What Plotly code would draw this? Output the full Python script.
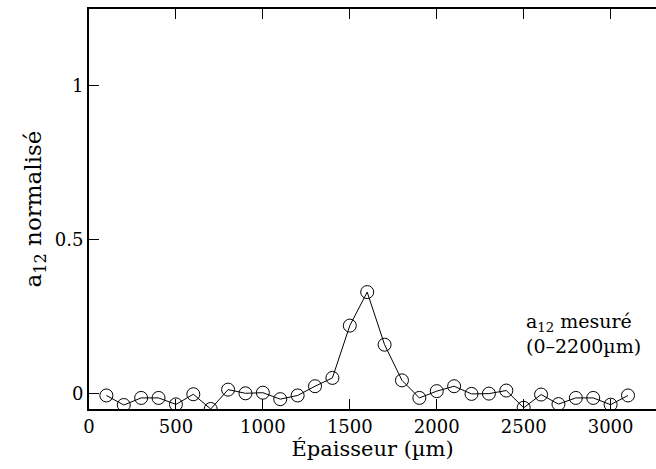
import plotly.graph_objects as go

epaisseur = [100, 200, 300, 400, 500, 600, 700, 800, 900, 1000, 1100, 1200, 1300, 1400, 1500, 1600,
             1700, 1800, 1900, 2000, 2100, 2200, 2300, 2400, 2500, 2600, 2700, 2800, 2900, 3000, 3100]
a12 = [-0.006, -0.037, -0.014, -0.014, -0.035, -0.002, -0.05, 0.013, 0.001, 0.003, -0.018, -0.006,
       0.024, 0.051, 0.221, 0.330, 0.159, 0.043, -0.014, 0.008, 0.024, -0.001, 0.0, 0.010, -0.046,
       -0.003, -0.034, -0.014, -0.014, -0.036, -0.006]
x_ticks = [0, 500, 1000, 1500, 2000, 2500, 3000]
y_ticks = [0, 0.5, 1]
y_tick_labels = ["0", "0.5", "1"]

FONT = "DejaVu Serif"

fig = go.Figure()
fig.add_trace(go.Scatter(
    x=epaisseur, y=a12, mode="lines+markers",
    line=dict(color="black", width=1),
    marker=dict(symbol="circle-open", size=13, color="black", line=dict(width=1, color="black")),
    showlegend=False,
))

fig.add_annotation(
    x=0.767, y=0.19, xref="paper", yref="paper", xanchor="left", yanchor="middle",
    text="a<sub>12</sub> mesuré<br>(0–2200µm)", showarrow=False, align="left",
    font=dict(family=FONT, size=19, color="black"),
)

fig.update_layout(
    width=656, height=469,
    margin=dict(l=89, r=0, t=9, b=60),
    paper_bgcolor="white", plot_bgcolor="white",
    font=dict(family=FONT, color="black"),
    xaxis=dict(
        range=[0, 3261], tickvals=x_ticks, ticks="inside", ticklen=10, tickwidth=1, tickcolor="black",
        showline=True, linewidth=2, linecolor="black", mirror="ticks", showgrid=False, zeroline=False,
        tickfont=dict(family=FONT, size=18, color="black"),
        title=dict(text="Épaisseur (µm)", font=dict(family=FONT, size=21, color="black"), standoff=2),
    ),
    yaxis=dict(
        range=[-0.05, 1.25], tickvals=y_ticks, ticktext=y_tick_labels, ticks="inside", ticklen=10,
        tickwidth=1, tickcolor="black",
        showline=True, linewidth=2, linecolor="black", mirror=False, showgrid=False, zeroline=False,
        tickfont=dict(family=FONT, size=18, color="black"),
        title=dict(text="a<sub>12</sub> normalisé", font=dict(family=FONT, size=23, color="black"), standoff=7),
    ),
)

fig.write_html("out.html")
